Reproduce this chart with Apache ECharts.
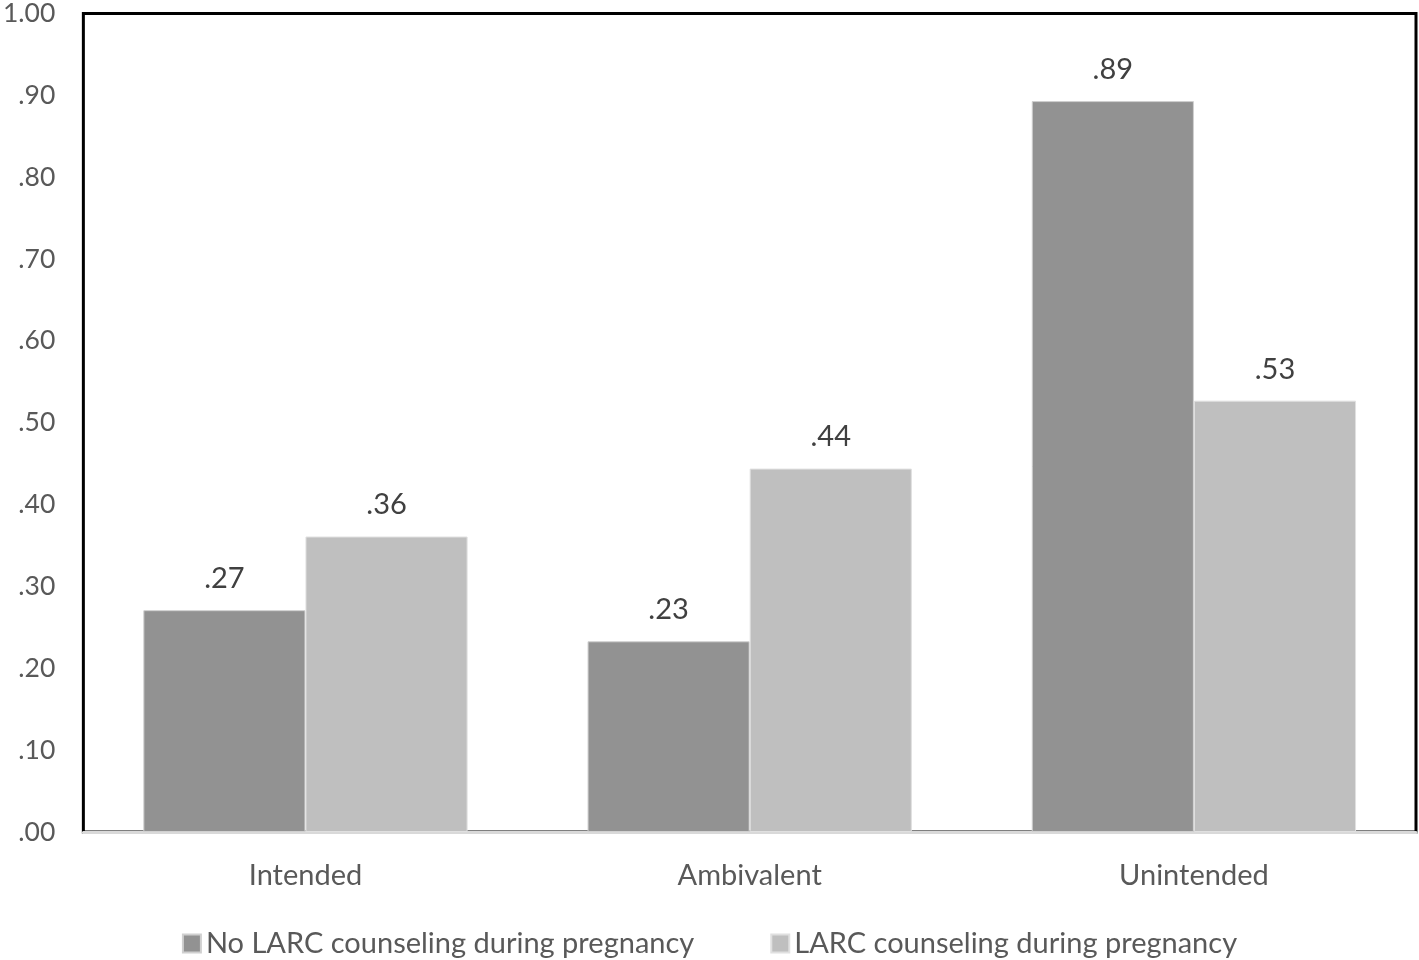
<!DOCTYPE html>
<html><head><meta charset="utf-8">
<script src="https://cdn.jsdelivr.net/npm/echarts@6/dist/echarts.min.js"></script>
<style>html,body{margin:0;padding:0;background:#fff}#c{width:1419px;height:960px}</style>
</head><body><div id="c"></div>
<script>
const categories = ['Intended', 'Ambivalent', 'Unintended'];
const seriesNames = ['No LARC counseling during pregnancy', 'LARC counseling during pregnancy'];
const noLarc = [0.271, 0.233, 0.893];
const larc = [0.361, 0.444, 0.527];
const yTicks = { min: 0, max: 1, interval: 0.1 };

const fmt = v => { const s = Number(v).toFixed(2); return s.startsWith('0') ? s.slice(1) : s; };
const FONT = 'Lato, "Open Sans", sans-serif';
const chart = echarts.init(document.getElementById('c'));
chart.setOption({
  animation: false,
  grid: { left: 83, right: 3, top: 11, bottom: 128, show: true, borderColor: '#000', borderWidth: 3, backgroundColor: 'transparent' },
  legend: {
    bottom: -3, left: 'center', itemWidth: 18, itemHeight: 18, itemGap: 76, icon: 'rect',
    textStyle: { fontFamily: FONT, fontSize: 29, color: '#595959' },
    data: seriesNames
  },
  xAxis: {
    type: 'category', data: categories,
    axisLine: { lineStyle: { color: '#d9d9d9', width: 3 } },
    axisTick: { show: false },
    axisLabel: { fontFamily: FONT, fontSize: 29, color: '#595959', margin: 29 }
  },
  yAxis: {
    type: 'value', min: yTicks.min, max: yTicks.max, interval: yTicks.interval,
    splitLine: { show: false },
    axisLine: { show: false }, axisTick: { show: false },
    axisLabel: { fontFamily: FONT, fontSize: 26.5, color: '#595959', margin: 28, formatter: fmt }
  },
  series: [
    { name: seriesNames[0], type: 'bar', data: noLarc, barWidth: '36.5%', barGap: '0%',
      itemStyle: { color: '#929292', borderColor: '#d0d0d0', borderWidth: 1 },
      label: { show: true, position: 'top', distance: 17, fontFamily: FONT, fontSize: 29, color: '#404040', formatter: p => fmt(p.value) } },
    { name: seriesNames[1], type: 'bar', data: larc, barWidth: '36.5%',
      itemStyle: { color: '#bfbfbf', borderColor: '#e0e0e0', borderWidth: 1 },
      label: { show: true, position: 'top', distance: 17, fontFamily: FONT, fontSize: 29, color: '#404040', formatter: p => fmt(p.value) } }
  ]
});
</script></body></html>
